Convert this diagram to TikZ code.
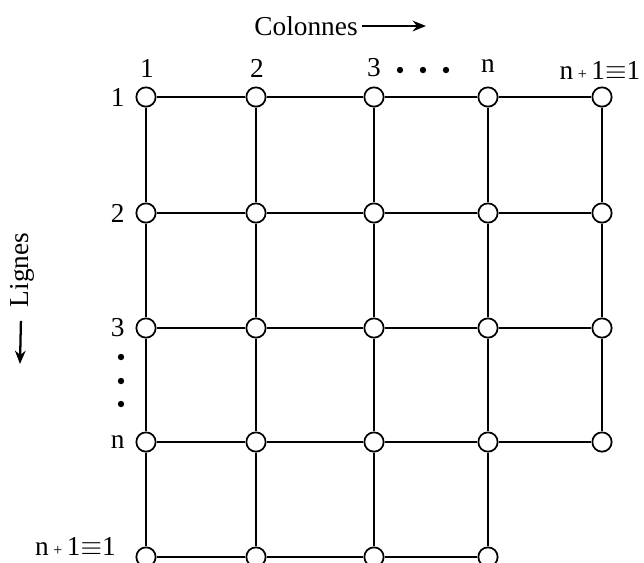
\documentclass[tikz,border=0pt]{standalone}
\usepackage{fontspec}
\setmainfont{Liberation Serif}
\usetikzlibrary{positioning,arrows.meta}
\newcommand{\nplusone}{n\,{\fontsize{12}{12}\selectfont +}\,1\ensuremath{\equiv}1}

\begin{document}
\begin{tikzpicture}[x=0.75pt,y=-0.75pt,>={Stealth[length=10pt,width=8pt]},font=\fontsize{20.5}{24}\selectfont]
    \tikzstyle{vertex}=[draw, circle, fill=white, line width=1.3pt, minimum size=14.5pt, inner sep=0pt]
    \tikzstyle{lbl}=[inner sep=0pt]
    \tikzstyle{dot}=[fill, circle, inner sep=0pt, minimum size=4.8pt]
    \tikzstyle{edge}=[line width=1.9pt]

    \useasboundingbox (0,0) rectangle (644,562);

    % grid of vertices
    \foreach \c/\x in {1/146,2/256,3/374,4/488,5/602}
      \foreach \r/\y in {1/97,2/213,3/328,4/442}
        \node[vertex] (v\r\c) at (\x,\y) {};
    \foreach \c/\x in {1/146,2/256,3/374,4/488}
      \node[vertex] (v5\c) at (\x,557) {};

    % horizontal edges
    \foreach \r in {1,...,4}
      \foreach \c/\d in {1/2,2/3,3/4,4/5}
        \draw[edge] (v\r\c) -- (v\r\d);
    \foreach \c/\d in {1/2,2/3,3/4}
      \draw[edge] (v5\c) -- (v5\d);

    % vertical edges
    \foreach \c in {1,...,4}
      \foreach \r/\s in {1/2,2/3,3/4,4/5}
        \draw[edge] (v\r\c) -- (v\s\c);
    \foreach \r/\s in {1/2,2/3,3/4}
      \draw[edge] (v\r5) -- (v\s5);

    % column labels
    \node[lbl] (colonnes) at (306,26) {Colonnes};
    \coordinate (colend) at (426,26);
    \draw[->, line width=1.7pt, shorten <=3pt] (colonnes) -- (colend);
    \node[lbl] (c1) at (147,68) {1};
    \node[lbl] (c2) at (257,68) {2};
    \node[lbl] (c3) at (374,68) {3};
    \node[dot] (cd1) at (400,70) {};
    \node[dot] (cd2) at (423,70) {};
    \node[dot] (cd3) at (446,70) {};
    \node[lbl] (cn) at (488,66) {n};
    \node[lbl] (cn1) at (600,70) {\nplusone};

    % row labels
    \node[lbl, left=8pt of v11] (r1) {1};
    \node[lbl, left=8pt of v21] (r2) {2};
    \node[lbl, left=8pt of v31] (r3) {3};
    \node[dot] (rd1) at (121,357) {};
    \node[dot] (rd2) at (121,381) {};
    \node[dot] (rd3) at (121,404) {};
    \node[lbl, left=8pt of v41] (rn) {n};
    \node[lbl, anchor=base east] (rn1) at (116,555) {\nplusone};

    \node[lbl, rotate=90] (lignes) at (22,270) {Lignes};
    \coordinate (lend) at (20,364);
    \draw[->, line width=1.7pt, shorten <=10pt] (lignes) -- (lend);
\end{tikzpicture}
\end{document}
